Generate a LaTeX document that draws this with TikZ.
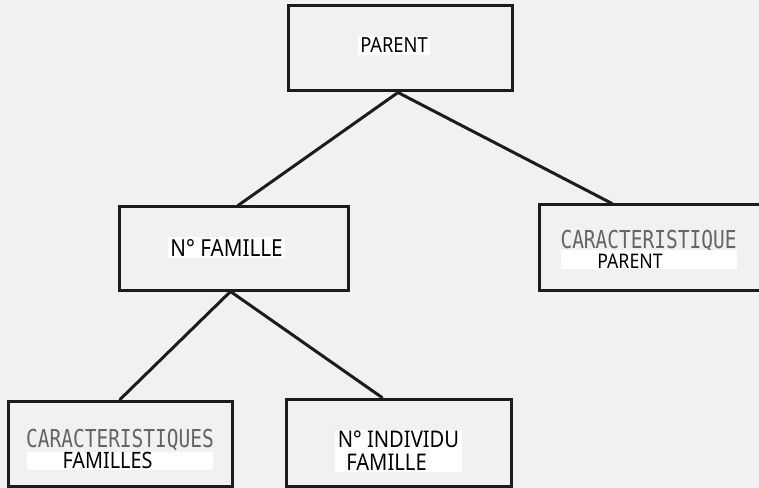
\documentclass[tikz,border=0pt]{standalone}
\usepackage{fontspec}
\setmainfont[FakeStretch=0.88]{Noto Sans}
\newfontfamily\typewr[FakeStretch=0.79]{DejaVu Sans Mono}
\usetikzlibrary{calc}
\definecolor{inkline}{HTML}{1C1C1C}
\definecolor{paper}{HTML}{F1F1F1}
\definecolor{typegray}{HTML}{646464}
\tikzset{
  entity/.style={draw=inkline, line width=2.25pt, rectangle, inner sep=0pt},
  link/.style={draw=inkline, line width=2.25pt, line cap=round},
  caption/.style={fill=white, inner sep=1.5pt, anchor=base, text=black},
  patch/.style={fill=white, inner sep=0pt},
  plain/.style={inner sep=0pt, anchor=base, text=black},
  typed/.style={inner sep=0pt, anchor=base, text=typegray, font=\typewr\fontsize{18.5pt}{20pt}\selectfont}
}
\begin{document}
\begin{tikzpicture}[x=0.75pt, y=-0.75pt]
  \useasboundingbox (0,0) rectangle (759,488);
  \clip (0,0) rectangle (759,488);
  \fill[paper] (0,0) rectangle (759,488);

  % entity boxes
  \node[entity, minimum width=168pt, minimum height=63.75pt] (parent) at (400,48.5) {};
  \node[entity, minimum width=171.75pt, minimum height=62.25pt] (famille) at (233.5,248.5) {};
  \node[entity, minimum width=177pt, minimum height=63.75pt] (carpar) at (657,247.5) {};
  \node[entity, minimum width=168pt, minimum height=63.75pt] (carfam) at (120,443.5) {};
  \node[entity, minimum width=168.75pt, minimum height=65.25pt] (indiv) at (398.5,442.5) {};

  % connectors
  \coordinate (p1) at ($(parent.south)+(-2,0)$);
  \coordinate (f1) at ($(famille.south)+(-3,0)$);
  \draw[link] (p1) -- ($(famille.north)+(4.5,0)$);
  \draw[link] (p1) -- ($(carpar.north)+(-45,0)$);
  \draw[link] (f1) -- (carfam.north);
  \draw[link] (f1) -- ($(indiv.north)+(-16.5,0)$);

  % labels
  \node[caption, font=\fontsize{15.6pt}{18pt}\selectfont] (tparent) at (394,53) {PARENT};
  \node[caption, font=\fontsize{17.6pt}{20pt}\selectfont] (tfam) at (226.5,256) {N° FAMILLE};

  \node[typed] (tcar1) at (648.5,248) {CARACTERISTIQUE};
  \node[patch, minimum width=132pt, minimum height=14.25pt] (wcar1) at (649,259.5) {};
  \node[plain, font=\fontsize{15.1pt}{18pt}\selectfont] (tcar1b) at (630,268) {PARENT};

  \node[typed] (tcar2) at (120,447) {CARACTERISTIQUES};
  \node[patch, minimum width=139.5pt, minimum height=13.5pt] (wcar2) at (120,461) {};
  \node[plain, font=\fontsize{16.9pt}{18pt}\selectfont] (tcar2b) at (107.5,468) {FAMILLES};

  \node[patch, minimum width=95.25pt, minimum height=31.5pt] (wind) at (398.5,451) {};
  \node[plain, font=\fontsize{17.2pt}{18pt}\selectfont] (tind) at (398.5,447) {N° INDIVIDU};
  \node[plain, font=\fontsize{17.2pt}{18pt}\selectfont] (tindb) at (386.5,470) {FAMILLE};
\end{tikzpicture}
\end{document}
